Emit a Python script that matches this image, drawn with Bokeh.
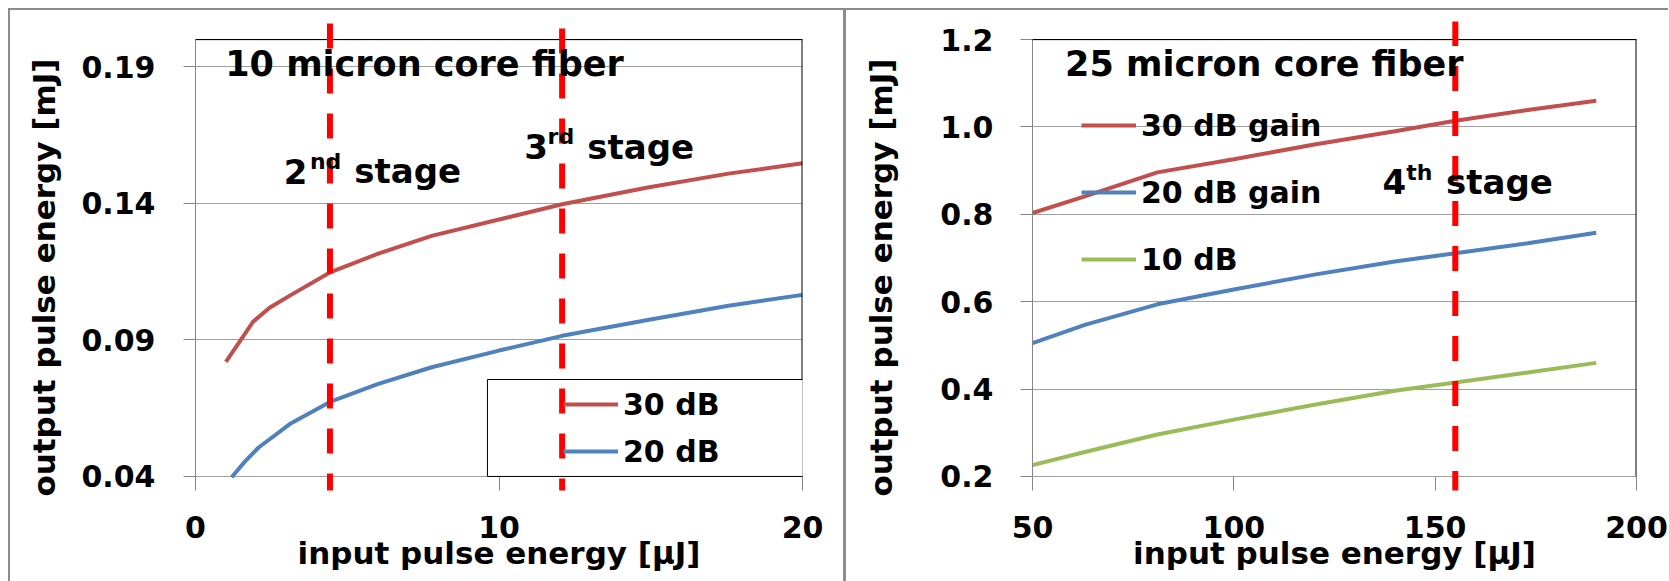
from bokeh.plotting import figure
from bokeh.layouts import row
from bokeh.models import (Label, Arrow, BoxAnnotation, Legend, LegendItem,
                          FixedTicker, Range1d, PrintfTickFormatter)
from bokeh.embed import file_html
from bokeh.resources import INLINE

# ---------------- data: left panel (10 micron core fiber) ----------------
left_x_30 = [1.0, 1.46, 1.9, 2.44, 3.15, 4.43, 6.0, 7.78, 10.0, 12.08, 14.9, 17.56, 20.0]
left_y_30 = [0.082, 0.0895, 0.0967, 0.1018, 0.1065, 0.1147, 0.1215, 0.1281, 0.1341,
             0.1397, 0.1458, 0.1509, 0.1547]
left_x_20 = [1.19, 1.64, 2.08, 3.15, 4.43, 6.0, 7.78, 10.0, 12.08, 14.9, 17.56, 20.0]
left_y_20 = [0.0397, 0.0456, 0.0506, 0.0595, 0.0673, 0.0738, 0.0800, 0.0861, 0.0915,
             0.0973, 0.1025, 0.1065]
left_series = ["30 dB", "20 dB"]
left_x_ticks = [0, 10, 20]
left_y_ticks = [0.04, 0.09, 0.14, 0.19]
left_axis_min, left_axis_max = 0.04, 0.20
left_stage_x = [4.43, 12.08]
left_stage_names = [("2", "nd", "stage"), ("3", "rd", "stage")]
left_title = "10 micron core fiber"

# ---------------- data: right panel (25 micron core fiber) ----------------
right_x = [50, 63, 81, 100, 120, 140, 155, 173, 190]
right_y_30 = [0.803, 0.841, 0.896, 0.926, 0.960, 0.990, 1.014, 1.039, 1.060]
right_y_20 = [0.505, 0.547, 0.594, 0.628, 0.662, 0.692, 0.711, 0.734, 0.758]
right_y_10 = [0.226, 0.256, 0.296, 0.330, 0.364, 0.396, 0.415, 0.438, 0.460]
right_series = ["30 dB gain", "20 dB gain", "10 dB"]
right_x_ticks = [50, 100, 150, 200]
right_y_ticks = [0.2, 0.4, 0.6, 0.8, 1.0, 1.2]
right_axis_min, right_axis_max = 0.2, 1.2
right_stage_x = [155.0]
right_stage_names = [("4", "th", "stage")]
right_title = "25 micron core fiber"

x_title = "input pulse energy [\u03bcJ]"
y_title = "output pulse energy [mJ]"

FONT = "DejaVu Sans"
RED = "#C0504D"
BLUE = "#4F81BD"
GREEN = "#9BBB59"
DASH_RED = "#FF0000"
AXIS_GREY = "#868686"
BORDER = "2px solid #8c8c8c"

FRAME_PX = 435.0      # pixel height of the axis span (min..max)
TOP_PAD_PX = 18.0     # room above the plot area for the stage markers
BOT_PAD_PX = 14.0     # room below the plot area (tick marks)
# trailing no-break spaces nudge the centred vertical title towards the bottom
Y_TITLE_PAD = "\u00a0" * 4


def make_fig(width, x_range, ymin, ymax, mbl, mbr, xticks, yticks, yfmt,
             ylab_standoff, ytitle_standoff):
    per_px = (ymax - ymin) / FRAME_PX
    p = figure(width=width, height=573, x_range=Range1d(*x_range),
               y_range=Range1d(ymin - BOT_PAD_PX * per_px, ymax + TOP_PAD_PX * per_px),
               output_backend="svg", toolbar_location=None,
               min_border_left=mbl, min_border_right=mbr,
               min_border_top=11, min_border_bottom=93)
    p.background_fill_color = "white"
    p.border_fill_color = "white"
    p.outline_line_color = None
    p.xgrid.visible = False
    p.ygrid.grid_line_color = "#a0a0a0"
    p.ygrid.grid_line_width = 1
    p.xaxis.ticker = FixedTicker(ticks=xticks)
    p.yaxis.ticker = FixedTicker(ticks=yticks)
    p.yaxis.formatter = PrintfTickFormatter(format=yfmt)
    for ax in (p.xaxis[0], p.yaxis[0]):
        ax.axis_line_color = AXIS_GREY
        ax.major_tick_line_color = AXIS_GREY
        ax.minor_tick_line_color = None
        ax.major_label_text_font = FONT
        ax.major_label_text_font_style = "bold"
        ax.major_label_text_font_size = "30px"
        ax.major_label_text_color = "black"
        ax.axis_label_text_font = FONT
        ax.axis_label_text_font_style = "bold"
        ax.axis_label_text_font_size = "31px"
        ax.axis_label_text_color = "black"
    # x axis: the horizontal gridline at the axis minimum acts as the axis line,
    # tick marks hang below it
    p.xaxis.axis_line_color = None
    p.xaxis.major_tick_in = 14
    p.xaxis.major_tick_out = 0
    p.xaxis.major_label_standoff = 25
    p.xaxis.axis_label_standoff = -6
    p.xaxis.axis_label = x_title
    # y axis
    p.yaxis.bounds = (ymin, ymax)
    p.yaxis.major_tick_in = 0
    p.yaxis.major_tick_out = 12
    p.yaxis.major_label_standoff = ylab_standoff
    p.yaxis.axis_label_standoff = ytitle_standoff
    p.yaxis.axis_label = y_title + Y_TITLE_PAD
    # dark plot-area border on the top and right sides
    p.add_layout(BoxAnnotation(left=x_range[0], right=x_range[1], top=ymax, bottom=ymax,
                               fill_alpha=0, line_color="black", line_alpha=1.0,
                               line_width=1))
    p.add_layout(BoxAnnotation(left=x_range[1], right=x_range[1], top=ymax, bottom=ymin,
                               fill_alpha=0, line_color="black", line_alpha=1.0,
                               line_width=2))
    return p


def add_text(p, x, y, text, size):
    p.add_layout(Label(x=x, y=y, text=text, text_font=FONT, text_font_style="bold",
                       text_font_size=f"{size}px", text_color="black",
                       text_align="left", text_baseline="alphabetic"))


def add_stage_line(p, x, top, bottom):
    p.add_layout(Arrow(start=None, end=None, x_start=x, y_start=top, x_end=x,
                       y_end=bottom, line_color=DASH_RED, line_width=6,
                       line_dash="25 20"))


def make_legend(p, items, loc, spacing):
    leg = Legend(items=items, location=loc, glyph_width=55, glyph_height=40,
                 label_height=40, label_standoff=5, spacing=spacing, padding=0,
                 margin=0, border_line_alpha=0, background_fill_alpha=0,
                 label_text_font=FONT, label_text_font_style="bold",
                 label_text_font_size="30px", label_text_color="black")
    p.add_layout(leg)


# ---------------- left panel ----------------
p1 = make_fig(838, (0, 20), left_axis_min, left_axis_max, 185, 46, left_x_ticks,
              left_y_ticks, "%.2f", 28, 16)
p1.margin = (8, 0, 0, 8)
p1.styles = {"border-left": BORDER, "border-top": BORDER,
             "border-right": "3px solid #8c8c8c"}
r30 = p1.line(left_x_30, left_y_30, line_color=RED, line_width=4)
r20 = p1.line(left_x_20, left_y_20, line_color=BLUE, line_width=4)
p1.add_layout(BoxAnnotation(left=9.62, right=20.12, top=0.0755, bottom=0.04,
                            fill_color="white", fill_alpha=1.0,
                            line_color="black", line_alpha=1.0, line_width=1))
make_legend(p1, [LegendItem(label=left_series[0], renderers=[r30]),
                 LegendItem(label=left_series[1], renderers=[r20])],
            (368, 19), 7)
add_stage_line(p1, left_stage_x[0], 0.205885, 0.03154)
add_stage_line(p1, left_stage_x[1], 0.204046, 0.029701)
add_text(p1, 0.98, 0.1911, left_title, 35)
# "2nd stage"
add_text(p1, 2.91, 0.1517, left_stage_names[0][0], 34)
add_text(p1, 3.77, 0.1553, left_stage_names[0][1], 22)
add_text(p1, 5.23, 0.1517, left_stage_names[0][2], 34)
# "3rd stage"
add_text(p1, 10.83, 0.1607, left_stage_names[1][0], 34)
add_text(p1, 11.60, 0.1646, left_stage_names[1][1], 22)
add_text(p1, 12.91, 0.1607, left_stage_names[1][2], 34)

# ---------------- right panel ----------------
p2 = make_fig(822, (50, 200), right_axis_min, right_axis_max, 186, 32, right_x_ticks,
              right_y_ticks, "%.1f", 27, 38)
p2.margin = (8, 0, 0, 0)
p2.styles = {"border-top": BORDER}
q30 = p2.line(right_x, right_y_30, line_color=RED, line_width=4)
q20 = p2.line(right_x, right_y_20, line_color=BLUE, line_width=4)
q10 = p2.line(right_x, right_y_10, line_color=GREEN, line_width=4)
make_legend(p2, [LegendItem(label=right_series[0], renderers=[q30]),
                 LegendItem(label=right_series[1], renderers=[q20]),
                 LegendItem(label=right_series[2], renderers=[q10])],
            (49, 211), 27)
add_stage_line(p2, right_stage_x[0], 1.2428, 0.15314)
add_text(p2, 58.1, 1.145, right_title, 35)
add_text(p2, 136.9, 0.875, right_stage_names[0][0], 34)
add_text(p2, 142.8, 0.895, right_stage_names[0][1], 22)
add_text(p2, 152.7, 0.875, right_stage_names[0][2], 34)

layout = row(p1, p2)
open("out.html", "w").write(file_html(layout, INLINE))
